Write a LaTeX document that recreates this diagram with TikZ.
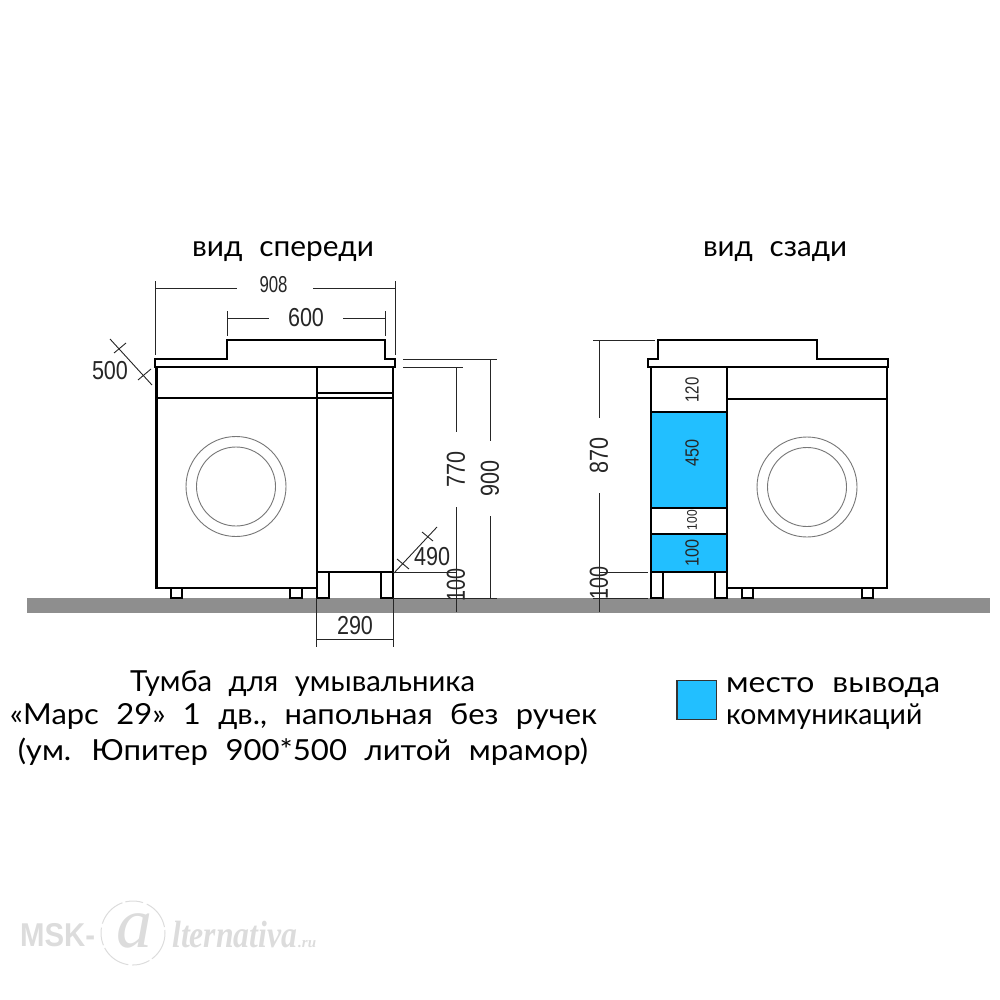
\documentclass[tikz,border=0pt]{standalone}
\usepackage{fontspec}
\usepackage{graphicx}
\setmainfont{Liberation Sans}
\newfontfamily\capfont[WordSpace=2.2]{Lato}
\newfontfamily\wmfont{Liberation Sans}
\newfontfamily\wmserif{Liberation Serif}
\definecolor{cblue}{HTML}{22BFFF}
\definecolor{floorg}{HTML}{8E8E8E}
\definecolor{ringg}{HTML}{777777}
\definecolor{wm}{HTML}{DCDCDC}
\newcommand{\fitw}[2]{\resizebox{#1}{\height}{#2}}
\tikzset{
  body/.style={draw=black,line width=2.2pt,fill=white,line join=miter},
  thin/.style={draw=black!85,line width=0.9pt},
  ring/.style={draw=ringg,line width=0.9pt},
  dimtxt/.style={inner sep=0pt,text=black!85,font=\fontsize{26}{26}\selectfont},
  midtxt/.style={inner sep=0pt,text=black!85,font=\fontsize{23}{23}\selectfont},
  smalltxt/.style={inner sep=0pt,text=black!85,font=\fontsize{19}{19}\selectfont},
  tinytxt/.style={inner sep=0pt,text=black!85,font=\fontsize{14}{14}\selectfont},
  captxt/.style={inner sep=0pt,anchor=base,text=black,font=\capfont\fontsize{29}{29}\selectfont},
}
\begin{document}
\begin{tikzpicture}[x=1pt,y=-1pt]
\useasboundingbox (0,0) rectangle (1000,1000);
% floor
\fill[floorg] (27,598) rectangle (990,613);

% ---------- front view
\foreach \a/\b in {171/182,290/302}{\draw[body] (\a,587) rectangle (\b,598);}
\foreach \a/\b in {317/329,381/393}{\draw[body] (\a,572) rectangle (\b,598);}
\draw[body] (156.5,367) rectangle (316.7,588);
\draw[body] (316.7,367) rectangle (393,572);
\draw[body,line width=1.6pt] (156.5,398) -- (316.7,398);
\draw[body,line width=1.6pt] (316.7,393) -- (393,393);
\draw[body,line width=1.6pt] (316.7,398) -- (393,398);
\draw[body] (155,367) -- (155,359) -- (227,359) -- (227,340) -- (385,340) -- (385,359) -- (395,359) -- (395,367) -- cycle;
\draw[ring] (236,486.5) circle (50);
\draw[ring] (236,486.5) circle (39.5);

% front dimensions
\draw[thin] (155,281) -- (155,355);
\draw[thin] (395,281) -- (395,355);
\draw[thin] (155,288) -- (237,288);
\draw[thin] (313,288) -- (395,288);
\node[midtxt] (t908) at (273.5,285) {\fitw{28pt}{908}};
\draw[thin] (227,311) -- (227,336);
\draw[thin] (385,311) -- (385,336);
\draw[thin] (227,318) -- (269,318);
\draw[thin] (343,318) -- (385,318);
\node[dimtxt] (t600) at (306,318) {\fitw{36pt}{600}};
\draw[thin] (110,339) -- (152,385);
\draw[thin] (114,353) -- (126,343);
\draw[thin] (138,380) -- (151,369);
\node[dimtxt] (t500) at (110,371) {\fitw{36pt}{500}};
\draw[thin] (403,359) -- (497,359);
\draw[thin] (403,367) -- (463,367);
\draw[thin] (393,572) -- (456,572);
\draw[thin] (393,598) -- (497,598);
\draw[thin] (456,367) -- (456,432);
\draw[thin] (456,507) -- (456,612);
\node[dimtxt,rotate=90] (t770) at (456,469) {\fitw{36pt}{770}};
\draw[thin] (490,359) -- (490,441);
\draw[thin] (490,516) -- (490,598);
\node[dimtxt,rotate=90] (t900) at (490,478) {\fitw{36pt}{900}};
\node[dimtxt,rotate=90] (t100a) at (456,585) {\fitw{33pt}{100}};
\draw[thin] (394,573) -- (437,527);
\draw[thin] (397,559) -- (409,569);
\draw[thin] (422,532) -- (433,541);
\node[dimtxt] (t490) at (432,557) {\fitw{36pt}{490}};
\draw[thin] (316.7,598) -- (316.7,647);
\draw[thin] (393,598) -- (393,647);
\draw[thin] (316.7,639) -- (393,639);
\node[dimtxt] (t290) at (355,626) {\fitw{36pt}{290}};

% ---------- back view
\foreach \a/\b in {742/753,862/873}{\draw[body] (\a,587) rectangle (\b,598);}
\foreach \a/\b in {651/663,715/727}{\draw[body] (\a,572) rectangle (\b,598);}
\draw[body] (727,367) rectangle (887,588);
\draw[body,line width=1.6pt] (727,399) -- (887,399);
\draw[body] (651,367) rectangle (727,572);
\draw[body,fill=cblue] (651,412) rectangle (727,508);
\draw[body,fill=cblue] (651,534) rectangle (727,572);
\draw[body] (648,367) -- (648,359) -- (658,359) -- (658,340) -- (817,340) -- (817,359) -- (888,359) -- (888,367) -- cycle;
\draw[ring] (807,487) circle (50);
\draw[ring] (807,487) circle (39.5);

% back dimensions
\draw[thin] (593,340) -- (655,340);
\draw[thin] (599,340) -- (599,418);
\draw[thin] (599,493) -- (599,612);
\draw[thin] (599,572) -- (648,572);
\draw[thin] (593,598) -- (648,598);
\node[dimtxt,rotate=90] (t870) at (599,455) {\fitw{36pt}{870}};
\node[dimtxt,rotate=90] (t100b) at (599,583) {\fitw{33pt}{100}};
\node[smalltxt,rotate=90] (t120) at (692,390) {\fitw{25pt}{120}};
\node[smalltxt,rotate=90] (t450) at (692,453) {\fitw{27pt}{450}};
\node[tinytxt,rotate=90] (t100c) at (692,520) {\fitw{20pt}{100}};
\node[smalltxt,rotate=90] (t100d) at (692,553) {\fitw{27pt}{100}};

% ---------- titles
\node[captxt] (title1) at (283,256) {\fitw{182pt}{вид спереди}};
\node[captxt] (title2) at (775,256) {\fitw{144pt}{вид сзади}};

\node[captxt] (l1) at (302.5,691) {\fitw{345pt}{Тумба для умывальника}};
\node[captxt] (l2) at (303.5,724) {\fitw{587pt}{«Марс 29» 1 дв., напольная без ручек}};
\node[captxt] (l3) at (303,760) {\fitw{570pt}{(ум. Юпитер 900*500 литой мрамор)}};

% legend
\draw[draw=black!80,line width=1.6pt,fill=cblue] (677,680.5) rectangle (716.5,719.5);
\node[captxt,anchor=base west] (leg1) at (726,692) {\fitw{214pt}{место вывода}};
\node[captxt,anchor=base west] (leg2) at (726,724) {\fitw{196pt}{коммуникаций}};

% ---------- watermark
\node[inner sep=0pt,anchor=west,text=wm,font=\wmfont\bfseries\fontsize{33}{33}\selectfont] (wm1) at (20,935) {\fitw{75pt}{MSK-}};
\draw[wm,line width=1pt,dash pattern=on 30pt off 3pt on 18pt off 4pt] (133,933) circle (32);
\node[inner sep=0pt,text=wm,font=\wmserif\itshape\fontsize{72}{72}\selectfont] (wm2) at (134,931) {a};
\node[inner sep=0pt,anchor=base west,text=wm,font=\wmserif\bfseries\itshape\fontsize{38}{38}\selectfont] (wm3) at (172,947) {\fitw{125pt}{lternativa}};
\node[inner sep=0pt,anchor=base west,text=wm,font=\wmserif\bfseries\itshape\fontsize{15}{15}\selectfont] (wm4) at (298,947) {.ru};
\end{tikzpicture}
\end{document}
